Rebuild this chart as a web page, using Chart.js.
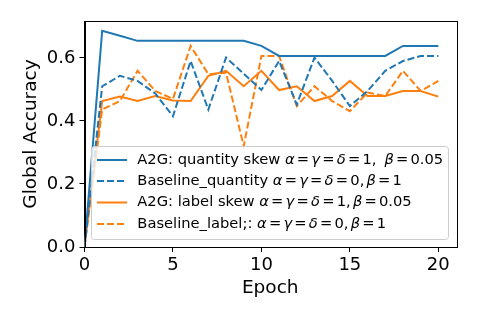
<!DOCTYPE html>
<html>
<head>
<meta charset="utf-8">
<script src="https://cdn.jsdelivr.net/npm/chart.js@4.4.1/dist/chart.umd.min.js"></script>
<style>
html,body{margin:0;padding:0;background:#fff;}
#wrap{position:relative;width:478px;height:319px;}
</style>
</head>
<body>
<div id="wrap"><canvas id="c" width="478" height="319"></canvas></div>
<script>
// ---- data ----
const epochs = [0,1,2,3,4,5,6,7,8,9,10,11,12,13,14,15,16,17,18,19,20];
const a2gQuantity = [0, 0.686, 0.670, 0.654, 0.654, 0.654, 0.654, 0.654, 0.654, 0.654, 0.638, 0.606, 0.606, 0.606, 0.606, 0.606, 0.606, 0.606, 0.638, 0.638, 0.638];
const baselineQuantity = [0, 0.510, 0.543, 0.527, 0.487, 0.415, 0.590, 0.436, 0.601, 0.550, 0.498, 0.590, 0.452, 0.601, 0.527, 0.447, 0.495, 0.559, 0.590, 0.606, 0.606];
const a2gLabel = [0, 0.463, 0.477, 0.463, 0.479, 0.465, 0.463, 0.543, 0.559, 0.510, 0.559, 0.498, 0.510, 0.463, 0.479, 0.527, 0.479, 0.479, 0.495, 0.495, 0.477];
const baselineLabel = [0, 0.436, 0.463, 0.559, 0.495, 0.470, 0.638, 0.548, 0.553, 0.320, 0.606, 0.606, 0.447, 0.510, 0.463, 0.431, 0.490, 0.479, 0.559, 0.495, 0.527];
const xTicks = [0, 5, 10, 15, 20];
const yTicks = [0.0, 0.2, 0.4, 0.6];
const seriesLabels = [
  "A2G: quantity skew α = γ = δ = 1,  β = 0.05",
  "Baseline_quantity α = γ = δ = 0, β = 1",
  "A2G: label skew α = γ = δ = 1, β = 0.05",
  "Baseline_label;: α = γ = δ = 0, β = 1"
];

const BLUE = '#1f77b4', ORANGE = '#ff7f0e';
const FONT = "'DejaVu Sans', sans-serif";

function pts(arr){ return arr.map((v,i)=>({x:epochs[i], y:v})); }

const datasets = [
  {label: seriesLabels[0], data: pts(a2gQuantity), borderColor: BLUE, borderDash: []},
  {label: seriesLabels[1], data: pts(baselineQuantity), borderColor: BLUE, borderDash: [7,3]},
  {label: seriesLabels[2], data: pts(a2gLabel), borderColor: ORANGE, borderDash: []},
  {label: seriesLabels[3], data: pts(baselineLabel), borderColor: ORANGE, borderDash: [7,3]}
].map(d => Object.assign(d, {borderWidth: 2, pointRadius: 0, fill: false, tension: 0, borderCapStyle: 'butt'}));

const framePlugin = {
  id: 'frame',
  afterDatasetsDraw(chart) {
    const {ctx, chartArea: a} = chart;
    ctx.save();
    ctx.strokeStyle = '#000';
    ctx.lineWidth = 1;
    ctx.strokeRect(Math.round(a.left)+0.5, Math.round(a.top)+0.5, Math.round(a.right-a.left), Math.round(a.bottom-a.top));
    ctx.restore();
  }
};

const greek = /[αβγδ]/;
const legendPlugin = {
  id: 'mplLegend',
  afterDraw(chart) {
    const ctx = chart.ctx;
    const fs = 14.7;
    const smallGap = 2.2, bigGap = 8;
    const box = {x: 91.5, y: 146.5, w: 357, h: 93};
    ctx.save();
    ctx.beginPath();
    const r = 3;
    ctx.moveTo(box.x + r, box.y);
    ctx.arcTo(box.x + box.w, box.y, box.x + box.w, box.y + box.h, r);
    ctx.arcTo(box.x + box.w, box.y + box.h, box.x, box.y + box.h, r);
    ctx.arcTo(box.x, box.y + box.h, box.x, box.y, r);
    ctx.arcTo(box.x, box.y, box.x + box.w, box.y, r);
    ctx.closePath();
    ctx.fillStyle = 'rgba(255,255,255,0.8)';
    ctx.fill();
    ctx.strokeStyle = '#cccccc';
    ctx.lineWidth = 1;
    ctx.stroke();
    const rows = [160, 181, 202.5, 224];
    chart.data.datasets.forEach((ds, i) => {
      const y = rows[i];
      ctx.beginPath();
      ctx.setLineDash(ds.borderDash || []);
      ctx.strokeStyle = ds.borderColor;
      ctx.lineWidth = 2;
      ctx.moveTo(97, y);
      ctx.lineTo(127, y);
      ctx.stroke();
      ctx.setLineDash([]);
      let x = 137.3;
      ctx.fillStyle = '#000';
      ctx.textBaseline = 'middle';
      ctx.textAlign = 'left';
      const label = ds.label;
      const mi = label.search(greek);
      const plain = label.slice(0, mi);
      const math = label.slice(mi);
      ctx.font = fs + 'px ' + FONT;
      ctx.fillText(plain, x, y);
      x += ctx.measureText(plain).width;
      const parts = math.split(/( +)/);
      for (const p of parts) {
        if (p === '') continue;
        if (/^ +$/.test(p)) { x += p.length > 1 ? bigGap : smallGap; continue; }
        for (const ch of p) {
          ctx.font = (greek.test(ch) ? 'italic ' : '') + fs + 'px ' + FONT;
          ctx.fillText(ch, x, y);
          x += ctx.measureText(ch).width;
        }
      }
    });
    ctx.restore();
  }
};

new Chart(document.getElementById('c'), {
  type: 'line',
  data: {datasets},
  options: {
    responsive: false,
    animation: false,
    events: [],
    layout: {padding: {left: 14, top: 21, right: 22, bottom: 0}},
    plugins: {legend: {display: false}, tooltip: {enabled: false}},
    scales: {
      x: {
        type: 'linear', min: 0, max: 21,
        afterBuildTicks: s => { s.ticks = xTicks.map(v => ({value: v})); },
        afterFit: s => { s.height = 72; },
        grid: {display: true, drawOnChartArea: false, drawTicks: true, tickLength: 5, color: '#000', lineWidth: 1},
        border: {display: true, color: '#000', width: 1},
        ticks: {color: '#000', font: {family: FONT, size: 18}, padding: 3, maxRotation: 0,
                callback: v => String(v)},
        title: {display: true, text: 'Epoch', color: '#000', font: {family: FONT, size: 18.5}, padding: {top: 0, bottom: 20}}
      },
      y: {
        type: 'linear', min: 0, max: 0.717,
        afterBuildTicks: s => { s.ticks = yTicks.map(v => ({value: v})); },
        afterFit: s => { s.width = 70.5; },
        grid: {display: true, drawOnChartArea: false, drawTicks: true, tickLength: 5, color: '#000', lineWidth: 1},
        border: {display: true, color: '#000', width: 1},
        ticks: {color: '#000', font: {family: FONT, size: 18}, padding: 4,
                callback: v => v.toFixed(1)},
        title: {display: true, text: 'Global Accuracy', color: '#000', font: {family: FONT, size: 18.5}, padding: {top: 6, bottom: 0}}
      }
    }
  },
  plugins: [framePlugin, legendPlugin]
});
</script>
</body>
</html>
